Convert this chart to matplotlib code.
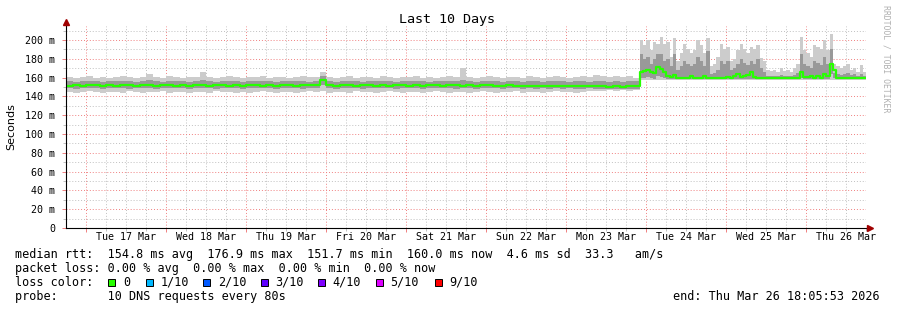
import numpy as np
import pandas as pd
import matplotlib
matplotlib.use("Agg")
import matplotlib.pyplot as plt
import matplotlib.dates as mdates
from matplotlib.patches import Rectangle

# smokeping style graph, Mar 16 18:05:53 -> Mar 26 18:05:53
start = pd.Timestamp("2026-03-16 18:05:53")
end = pd.Timestamp("2026-03-26 18:05:53")

# calm period: 86 bins of 2 hours (rtt in ms)
calm_median = [151.5,152,151.5,152,152,151.5,152,151.5,152,152, 151.5,152,152,151.5,152,152,151.5,152,151.5,152,
               152,151.5,152,152,151.5,152,151.5,152,152,151.5, 152,151.5,152,152,151.5,152,152,152,157,152,
               151.5,152,152,151.5,152,152,151.5,152,151.5,152, 152,151.5,152,151.5,152,152,151.5,152,152,151.5,
               152,151.5,152,152,151.5,151.5,152,151.5,151.5,151, 151.5,151,151.5,151,151,151.5,151,151,151.5,151,
               151,150.5,151,150.5,151,151]
calm_min = [145,144,145,146,145,144,145,145,144,146,145,144,145,145,146,144,145,145,144,145,
            145,144,146,145,145,144,145,144,145,146,145,144,145,145,144,145,146,145,146,144,
            145,145,144,146,145,145,144,145,146,145,144,145,145,144,145,146,145,144,145,145,
            144,145,146,145,144,145,145,146,144,145,145,144,145,146,145,145,144,145,146,146,
            146,147,146,147,146,147]
calm_p25 = [148.5,148,148.5,149,148.5,148,148.5,149,148.5,148, 148.5,149,148.5,148,148.5,149,148.5,148.5,148,148.5,
            149,148.5,148,148.5,149,148.5,148,148.5,148.5,149, 148.5,148,148.5,149,148.5,148,148.5,149,152,148.5,
            148,148.5,149,148.5,148,148.5,148.5,149,148.5,148, 148.5,149,148.5,148,148.5,148.5,149,148.5,148,148.5,
            148.5,148,148.5,149,148.5,148,148.5,148.5,148,148.5, 148,148.5,148,148.5,148,148.5,148,148,148.5,148,
            148,147.5,148,147.5,148,148]
calm_p75 = [156,155.5,156,156.5,156,155.5,156,156,156.5,156, 155.5,156,157,156,155.5,156,156.5,156,155.5,156,
            158,156,155.5,156,156.5,156,155.5,156,156,156.5, 156,155.5,156,156,156.5,156,155.5,156,162,156,
            155.5,156,156.5,156,155.5,156,156,156.5,156,155.5, 156,156,156.5,156,155.5,156,156,156.5,156,158,
            156,155.5,156,156.5,156,155.5,156,156,155.5,156, 156,155.5,156,156.5,156,155.5,156,156,155.5,156,
            156,155.5,156,155.5,156,156]
calm_max = [161,160,161,162,160,161,160,161,162,161,160,161,164,161,160,162,161,160,161,161,
            166,161,160,161,162,161,160,161,161,162,160,161,161,160,161,162,161,161,166,161,
            160,161,162,160,161,161,160,162,161,160,161,161,162,160,161,160,161,162,161,170,
            161,160,161,162,161,160,161,161,160,162,161,160,161,162,161,160,161,162,161,163,
            162,161,162,161,162,160]

# busy period: 68 bins of 1 hour
busy_median = [166,167,168,166,164.5,171,169,166,162,161, 163,160,160,160,160,162,160,160,160,162,
               160,160,160,160,160,160,161,160,162,164, 161,162,163,166,161,160,160,160,159.5,159.5,
               159.5,159.5,159.5,159.5,159.5,159.5,159.5,160,166,161, 161,162,160,162,160,164,162,175,168,160,
               160,160,160,160,160,160,160,159.5]
busy_min = [158,158,158,157.5,157.5,158,158,157.5,157,157, 157,157,157,157,157,157,157,157,157,157,
            157,157,157,157,157,157,157,157,157,157, 157,157,157,157,157,157,157,157,157,157,
            157,157,157,157,157,157,157,157,157.5,157, 157,157,157,157,157,157,157,158,157.5,157,
            157,157,157,157,157,157,157,157]
busy_p25 = [160,160,161,160,159,162,161,160,159,158.5, 159,158.5,158.5,158.5,158.5,158.5,158.5,158.5,158.5,158.5,
            158.5,158.5,158.5,158.5,158.5,158.5,158.5,158.5,158.5,159, 158.5,158.5,159,159,158.5,158.5,158.5,158.5,158.5,158.5,
            158.5,158.5,158.5,158.5,158.5,158.5,158.5,158.5,160,158.5, 158.5,158.5,158.5,158.5,158.5,159,158.5,164,160,158.5,
            158.5,158.5,158.5,158.5,158.5,158.5,158.5,158.5]
busy_p75 = [185,180,182,175,180,185,185,178,180,172, 185,168,172,178,175,172,175,182,178,172,
            188,164,165,168,178,175,178,168,170,175, 180,176,174,178,175,180,170,166,162,162,
            162,162,163,162,162,162,163,165,185,175, 172,170,178,176,174,182,175,190,165,164,
            163,164,165,163,164,162,164,162]
busy_max = [200,195,200,189,198,196,203,196,198,182, 202,178,186,196,190,186,189,200,195,186,
            202,172,175,182,196,190,193,178,180,189, 196,190,186,193,190,195,181,178,168,167,
            168,166,170,167,168,166,170,175,203,189, 186,182,195,193,190,200,189,207,175,172,
            170,172,175,168,170,166,173,166]

day_labels = ["Tue 17 Mar", "Wed 18 Mar", "Thu 19 Mar", "Fri 20 Mar", "Sat 21 Mar",
              "Sun 22 Mar", "Mon 23 Mar", "Tue 24 Mar", "Wed 25 Mar", "Thu 26 Mar"]
yticks_ms = [0, 20, 40, 60, 80, 100, 120, 140, 160, 180, 200]

legend_lines = [
    "median rtt:  154.8 ms avg  176.9 ms max  151.7 ms min  160.0 ms now  4.6 ms sd  33.3   am/s",
    "packet loss: 0.00 % avg  0.00 % max  0.00 % min  0.00 % now",
]
loss_labels = ["0", "1/10", "2/10", "3/10", "4/10", "5/10", "9/10"]
loss_colors = ["#26ff00", "#00b8ff", "#0059ff", "#5e00ff", "#7e00ff", "#dd00ff", "#ff0000"]
probe_text = "probe:       10 DNS requests every 80s"
end_text = "end: Thu Mar 26 18:05:53 2026"

W, H = 897, 310
fig = plt.figure(figsize=(W / 100, H / 100), dpi=100)
fig.patch.set_facecolor("white")

def fx(x):
    return x / W

def fy(y):
    return 1 - y / H

ax = fig.add_axes([fx(66.3), fy(228), (866.3 - 66.3) / W, (228 - 26) / H])
ax.set_facecolor("white")

# bin edges: 2h steps for the calm part, 1h steps after
calm_edges = pd.date_range(start, periods=len(calm_median) + 1, freq="2h")
busy_edges = pd.date_range(calm_edges[-1], periods=len(busy_median) + 1, freq="1h")[1:]
edges = calm_edges.append(busy_edges)
t = mdates.date2num(edges.to_pydatetime())

def ext(a, b):
    a = list(a) + list(b)
    return np.array(a + [a[-1]])

ax.fill_between(t, ext(calm_min, busy_min), ext(calm_max, busy_max), step="post", color="#cccccc", lw=0)
ax.fill_between(t, ext(calm_p25, busy_p25), ext(calm_p75, busy_p75), step="post", color="#999999", lw=0)
ax.step(t, ext(calm_median, busy_median), where="post", color="#26ff00", lw=1.6, zorder=4)

t0 = mdates.date2num(start.to_pydatetime())
t1 = mdates.date2num(end.to_pydatetime())
ax.set_xlim(t0, t1)
ax.set_ylim(0, 215)

ax.xaxis.set_major_locator(mdates.DayLocator())
ax.xaxis.set_minor_locator(mdates.HourLocator(byhour=[6, 12, 18]))
ax.xaxis.set_major_formatter(plt.NullFormatter())
ax.set_yticks(yticks_ms)
ax.set_yticks(np.arange(10, 215, 20), minor=True)
ax.set_yticklabels(["0" if v == 0 else f"{v} m" for v in yticks_ms],
                   family="DejaVu Sans Mono", fontsize=7.2)

dots = (0, (1, 2))
ax.grid(which="major", color="#f08080", lw=0.7, ls=dots)
ax.grid(which="minor", color="#c0c0c0", lw=0.7, ls=dots)
ax.set_axisbelow(True)
ax.tick_params(which="major", length=3, width=0.7, color="#f08080", pad=5)
ax.tick_params(which="minor", length=2, width=0.7, color="#c0c0c0")

for s in ["top", "right", "left", "bottom"]:
    ax.spines[s].set_visible(False)

# axes with arrows
x_arrow = t1 + (t1 - t0) * 3.7 / 800
ax.plot([t0, x_arrow], [0, 0], color="black", lw=0.8, clip_on=False, zorder=5)
ax.plot([t0, t0], [0, 219], color="black", lw=0.8, clip_on=False, zorder=5)
ax.plot([x_arrow], [0], marker=">", color="#a00000", ms=4, clip_on=False, zorder=6)
ax.plot([t0], [219.5], marker="^", color="#a00000", ms=4, clip_on=False, zorder=6)

# day labels at noon
for i, lab in enumerate(day_labels):
    noon = pd.Timestamp("2026-03-17 12:00") + pd.Timedelta(days=i)
    ax.text(mdates.date2num(noon.to_pydatetime()), -10, lab, ha="center", va="center",
            family="DejaVu Sans Mono", fontsize=7.2, clip_on=False)

fig.text(fx(447), fy(19.5), "Last 10 Days", ha="center", va="center",
         family="DejaVu Sans Mono", fontsize=9.6)
fig.text(fx(11), fy(127), "Seconds", rotation=90, ha="center", va="center",
         family="DejaVu Sans", fontsize=8)
fig.text(fx(886), fy(5), "RRDTOOL / TOBI OETIKER", rotation=270, ha="center", va="top",
         family="DejaVu Sans Mono", fontsize=5.9, color="#b0b0b0")

# legend block
mono = dict(family="DejaVu Sans Mono", fontsize=8.5, va="center", ha="left")
fig.text(fx(15), fy(254.3), legend_lines[0], **mono)
fig.text(fx(15), fy(268.3), legend_lines[1], **mono)
fig.text(fx(15), fy(282.3), "loss color:", **mono)
sq_x = [108.3, 145.7, 203.3, 261, 318.3, 376, 435]
for xs, lab, col in zip(sq_x, loss_labels, loss_colors):
    fig.patches.append(Rectangle((fx(xs), fy(285.8)), 7 / W, 7 / H, transform=fig.transFigure,
                                 facecolor=col, edgecolor="black", lw=0.7))
    fig.text(fx(xs + 14.5), fy(282.3), lab, **mono)
fig.text(fx(15), fy(296.3), probe_text, **mono)
fig.text(fx(880), fy(296.3), end_text, family="DejaVu Sans Mono", fontsize=8.5,
         va="center", ha="right")

fig.savefig("out.png", dpi=100, facecolor="white")
